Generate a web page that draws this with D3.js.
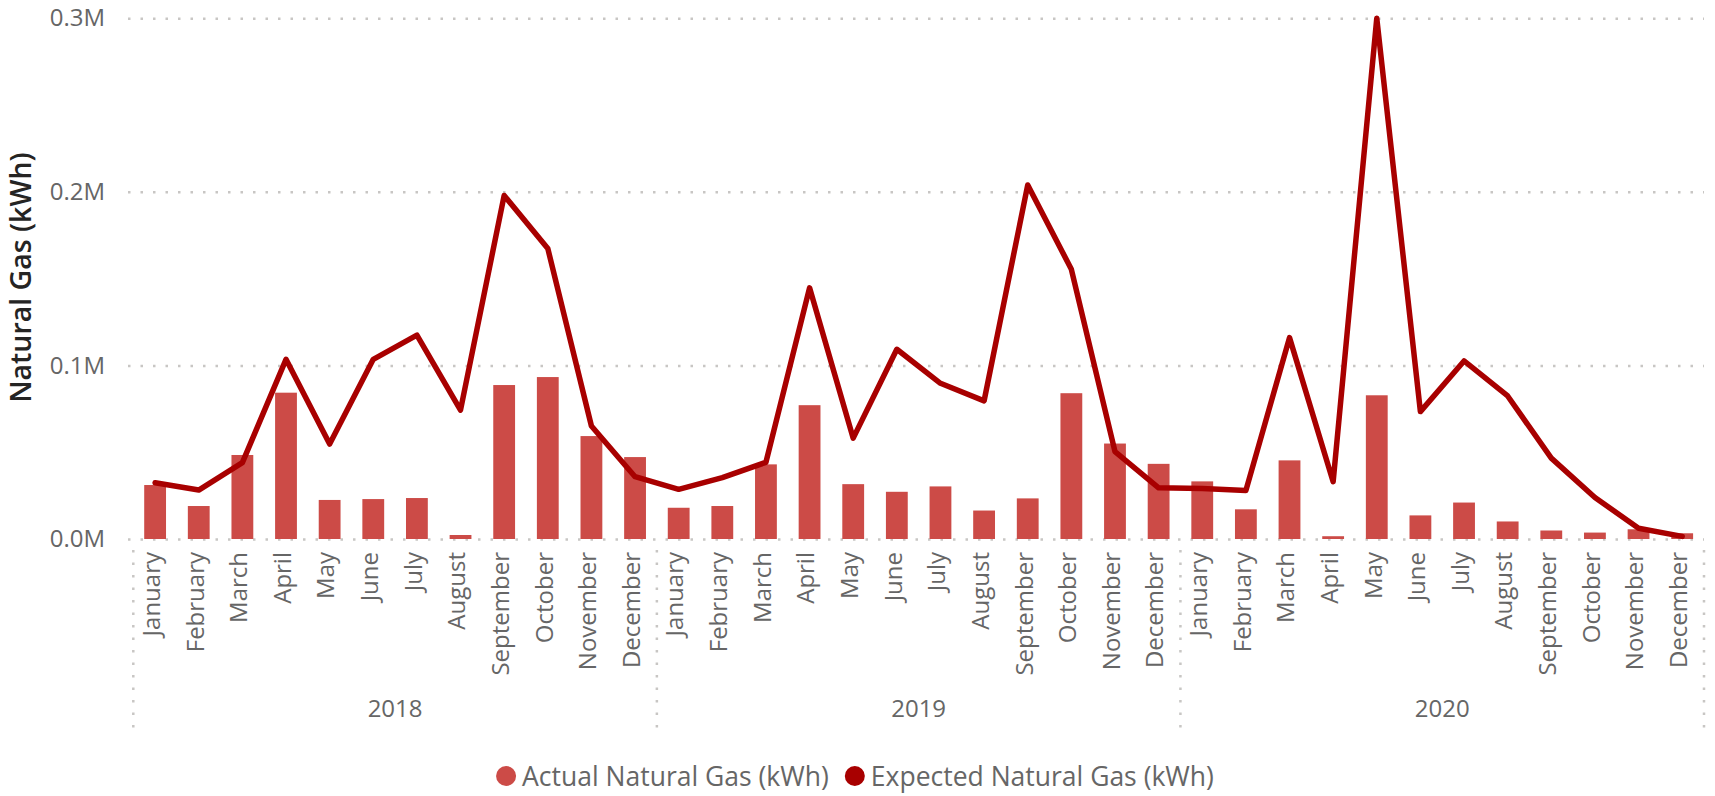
<!DOCTYPE html>
<html>
<head>
<meta charset="utf-8">
<script src="https://cdn.jsdelivr.net/npm/d3@7"></script>
<style>
  body { margin: 0; background: #fff; }
  svg text { font-family: "Segoe UI", "Open Sans", "Noto Sans", sans-serif; }
</style>
</head>
<body>
<svg id="chart" width="1715" height="796" viewBox="0 0 1715 796"></svg>
<script>
var months = ["January", "February", "March", "April", "May", "June", "July",
  "August", "September", "October", "November", "December"];
var years = ["2018", "2019", "2020"];
var yTicks = [0, 100000, 200000, 300000];

var actual2018 = [31100, 19000, 48400, 84300, 22500, 23000, 23600, 2300, 88700, 93300, 59300, 47200];
var actual2019 = [18000, 19000, 43000, 77100, 31600, 27200, 30300, 16400, 23400, 84000, 55000, 43300];
var actual2020 = [33200, 17100, 45300, 1600, 82800, 13600, 21000, 10100, 4900, 3700, 5600, 3300];

var expected2018 = [32400, 28200, 44000, 103500, 54700, 103500, 117500, 74300, 197900, 167400, 65100, 35900];
var expected2019 = [28600, 35400, 44200, 144700, 58100, 109300, 89700, 79600, 204000, 155400, 50300, 29500];
var expected2020 = [29100, 28000, 116000, 33000, 300000, 73400, 102600, 82400, 46600, 23900, 6200, 1500];

var seriesNames = ["Actual Natural Gas (kWh)", "Expected Natural Gas (kWh)"];
var barColor = "#CC4B47";
var lineColor = "#A80000";

// build one row per year-month
var rows = [];
var actualAll = [actual2018, actual2019, actual2020];
var expectedAll = [expected2018, expected2019, expected2020];
years.forEach(function (yr, yi) {
  months.forEach(function (m, mi) {
    rows.push({ key: yr + "-" + mi, year: yr, month: m, actual: actualAll[yi][mi], expected: expectedAll[yi][mi] });
  });
});

var svg = d3.select("#chart");
// note: "top" is taken by window.top, so use plot* names
var plotLeft = 133.3, plotRight = 1704, plotTop = 18.3, plotBottom = 539;

var x = d3.scaleBand()
  .domain(rows.map(function (d) { return d.key; }))
  .range([plotLeft, plotRight]);
var y = d3.scaleLinear()
  .domain([0, 300000])
  .range([plotBottom, plotTop]);

var gridColor = "#C8C6C4";
var textColor = "#666666";

// y axis + dotted grid
var yAxis = d3.axisLeft(y)
  .tickValues(yTicks)
  .tickSize(-(plotRight - 128))
  .tickPadding(23)
  .tickFormat(function (d) { return (d / 1e6).toFixed(1) + "M"; });
var yg = svg.append("g")
  .attr("class", "y axis")
  .attr("transform", "translate(128,0)")
  .call(yAxis);
yg.select(".domain").remove();
yg.selectAll("line")
  .attr("stroke", gridColor)
  .attr("stroke-width", 2.5)
  .attr("stroke-dasharray", "2.5,10");
yg.selectAll("text")
  .attr("fill", textColor)
  .style("font-size", "24px");

// y title
svg.append("text")
  .attr("transform", "translate(31," + ((plotTop + plotBottom) / 2 - 1) + ") rotate(-90)")
  .attr("text-anchor", "middle")
  .attr("fill", "#252423")
  .style("font-family", "'Open Sans', 'Noto Sans', sans-serif")
  .style("font-weight", 600)
  .style("font-size", "28.5px")
  .text("Natural Gas (kWh)");

// bars
var bw = x.bandwidth() * 0.5;
svg.append("g").selectAll("rect")
  .data(rows)
  .enter().append("rect")
  .attr("x", function (d) { return x(d.key) + (x.bandwidth() - bw) / 2; })
  .attr("y", function (d) { return y(d.actual); })
  .attr("width", bw)
  .attr("height", function (d) { return y(0) - y(d.actual); })
  .attr("fill", barColor);

// expected line
var line = d3.line()
  .x(function (d) { return x(d.key) + x.bandwidth() / 2; })
  .y(function (d) { return y(d.expected); });
svg.append("path")
  .datum(rows)
  .attr("d", line)
  .attr("fill", "none")
  .attr("stroke", lineColor)
  .attr("stroke-width", 5.5)
  .attr("stroke-linejoin", "round")
  .attr("stroke-linecap", "round");

// month labels
var xAxis = d3.axisBottom(x)
  .tickSize(0)
  .tickFormat(function (k) { return rows.find(function (r) { return r.key === k; }).month; });
var xg = svg.append("g")
  .attr("class", "x axis")
  .attr("transform", "translate(0," + plotBottom + ")")
  .call(xAxis);
xg.select(".domain").remove();
xg.selectAll("text")
  .attr("fill", textColor)
  .style("font-size", "24px")
  .attr("text-anchor", "end")
  .attr("transform", "translate(0,13) rotate(-90)")
  .attr("x", 0)
  .attr("y", 0)
  .attr("dy", "0.2em");

// year separators and year labels
var yearStarts = years.map(function (yr) { return x(yr + "-0"); }).concat([plotRight]);
svg.append("g").selectAll("line")
  .data(yearStarts)
  .enter().append("line")
  .attr("x1", function (d) { return d; })
  .attr("x2", function (d) { return d; })
  .attr("y1", 550)
  .attr("y2", 732)
  .attr("stroke", gridColor)
  .attr("stroke-width", 2.5)
  .attr("stroke-dasharray", "2.5,10");

svg.append("g").selectAll("text")
  .data(years)
  .enter().append("text")
  .attr("x", function (d, i) { return (yearStarts[i] + yearStarts[i + 1]) / 2; })
  .attr("y", 717)
  .attr("text-anchor", "middle")
  .attr("fill", textColor)
  .style("font-size", "24px")
  .text(function (d) { return d; });

// legend
var legend = svg.append("g");
var lx = 0;
seriesNames.forEach(function (name, i) {
  var item = legend.append("g").attr("transform", "translate(" + lx + ",0)");
  item.append("circle")
    .attr("cx", 10)
    .attr("cy", 776)
    .attr("r", 10)
    .attr("fill", i === 0 ? barColor : lineColor);
  var t = item.append("text")
    .attr("x", 26)
    .attr("y", 786)
    .attr("fill", textColor)
    .style("font-size", "26.5px")
    .text(name);
  lx += 26 + t.node().getComputedTextLength() + 16;
});
var lw = lx - 16;
legend.attr("transform", "translate(" + (855 - lw / 2) + ",0)");
</script>
</body>
</html>
